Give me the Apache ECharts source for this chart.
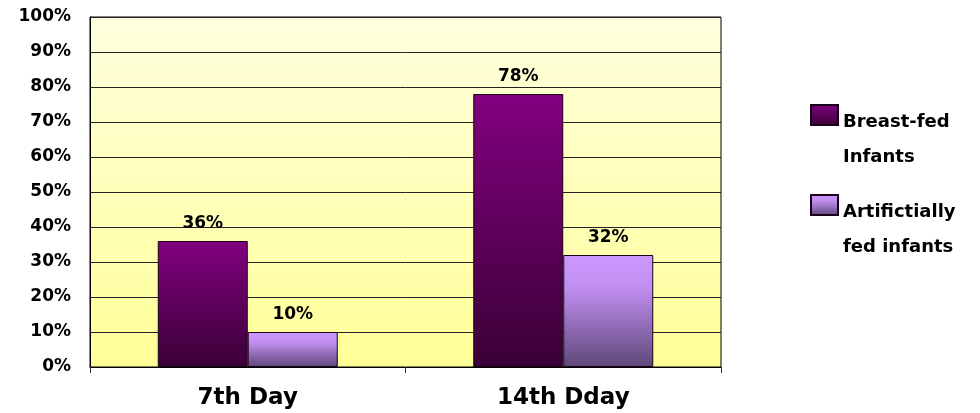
<!DOCTYPE html>
<html>
<head>
<meta charset="utf-8">
<script src="https://cdn.jsdelivr.net/npm/echarts@6/dist/echarts.min.js"></script>
<style>
html,body{margin:0;padding:0;background:#fff;}
#chart{width:980px;height:413px;}
</style>
</head>
<body>
<div id="chart"></div>
<script>
var categories = ['7th Day', '14th Dday'];
var seriesNames = ['Breast-fed Infants', 'Artifictially fed infants'];
var legendLines = [['Breast-fed', 'Infants'], ['Artifictially', 'fed infants']];
var breastFed = [36, 78];
var artificial = [10, 32];

var FONT = 'DejaVu Sans';
var chart = echarts.init(document.getElementById('chart'));

function grad(stops) {
  return new echarts.graphic.LinearGradient(0, 0, 0, 1, stops);
}

var option = {
  animation: false,
  backgroundColor: '#ffffff',
  grid: {
    left: 90, right: 259, top: 17, bottom: 46,
    show: true,
    backgroundColor: grad([{offset: 0, color: '#FFFFDE'}, {offset: 1, color: '#FFFF98'}]),
    borderColor: '#000000',
    borderWidth: 1
  },
  legend: {
    orient: 'vertical',
    left: 805,
    top: 70,
    itemWidth: 27,
    itemHeight: 20,
    itemGap: -1,
    icon: 'rect',
    selectedMode: false,
    formatter: function (name) {
      var i = seriesNames.indexOf(name);
      return '{s| }\n{a|' + legendLines[i][0] + '}\n{a|' + legendLines[i][1] + '}';
    },
    textStyle: {
      fontFamily: FONT,
      fontWeight: 'bold',
      fontSize: 18,
      color: '#000',
      rich: {
        s: {lineHeight: 49, fontSize: 10},
        a: {lineHeight: 35, fontFamily: FONT, fontWeight: 'bold', fontSize: 18, color: '#000'}
      }
    },
    data: seriesNames
  },
  xAxis: {
    type: 'category',
    data: categories,
    axisLine: {lineStyle: {color: '#000', width: 1}},
    axisTick: {show: true, length: 6, lineStyle: {color: '#333'}},
    axisLabel: {
      fontFamily: FONT, fontWeight: 'bold', fontSize: 23, color: '#000', margin: 20
    }
  },
  yAxis: {
    type: 'value',
    min: 0, max: 100, interval: 10,
    axisLine: {show: true, lineStyle: {color: '#000'}},
    axisTick: {show: false},
    splitLine: {lineStyle: {color: '#222', width: 1}},
    axisLabel: {
      formatter: '{value}%',
      fontFamily: FONT, fontWeight: 'bold', fontSize: 17, color: '#000', margin: 19
    }
  },
  series: [
    {
      name: seriesNames[0],
      type: 'bar',
      data: breastFed,
      barWidth: 90,
      barGap: '0%',
      itemStyle: {
        color: grad([{offset: 0, color: '#820080'}, {offset: 1, color: '#3A0036'}]),
        borderColor: '#1a001a',
        borderWidth: 1
      },
      label: {
        show: true, position: 'top', distance: 9,
        formatter: '{c}%',
        fontFamily: FONT, fontWeight: 'bold', fontSize: 17, color: '#000'
      }
    },
    {
      name: seriesNames[1],
      type: 'bar',
      data: artificial,
      barWidth: 90,
      itemStyle: {
        color: grad([{offset: 0, color: '#CC99FF'}, {offset: 0.3, color: '#C08EF0'}, {offset: 1, color: '#5E4878'}]),
        borderColor: '#1a001a',
        borderWidth: 1
      },
      label: {
        show: true, position: 'top', distance: 9,
        formatter: '{c}%',
        fontFamily: FONT, fontWeight: 'bold', fontSize: 17, color: '#000'
      }
    }
  ]
};
chart.setOption(option);
</script>
</body>
</html>
